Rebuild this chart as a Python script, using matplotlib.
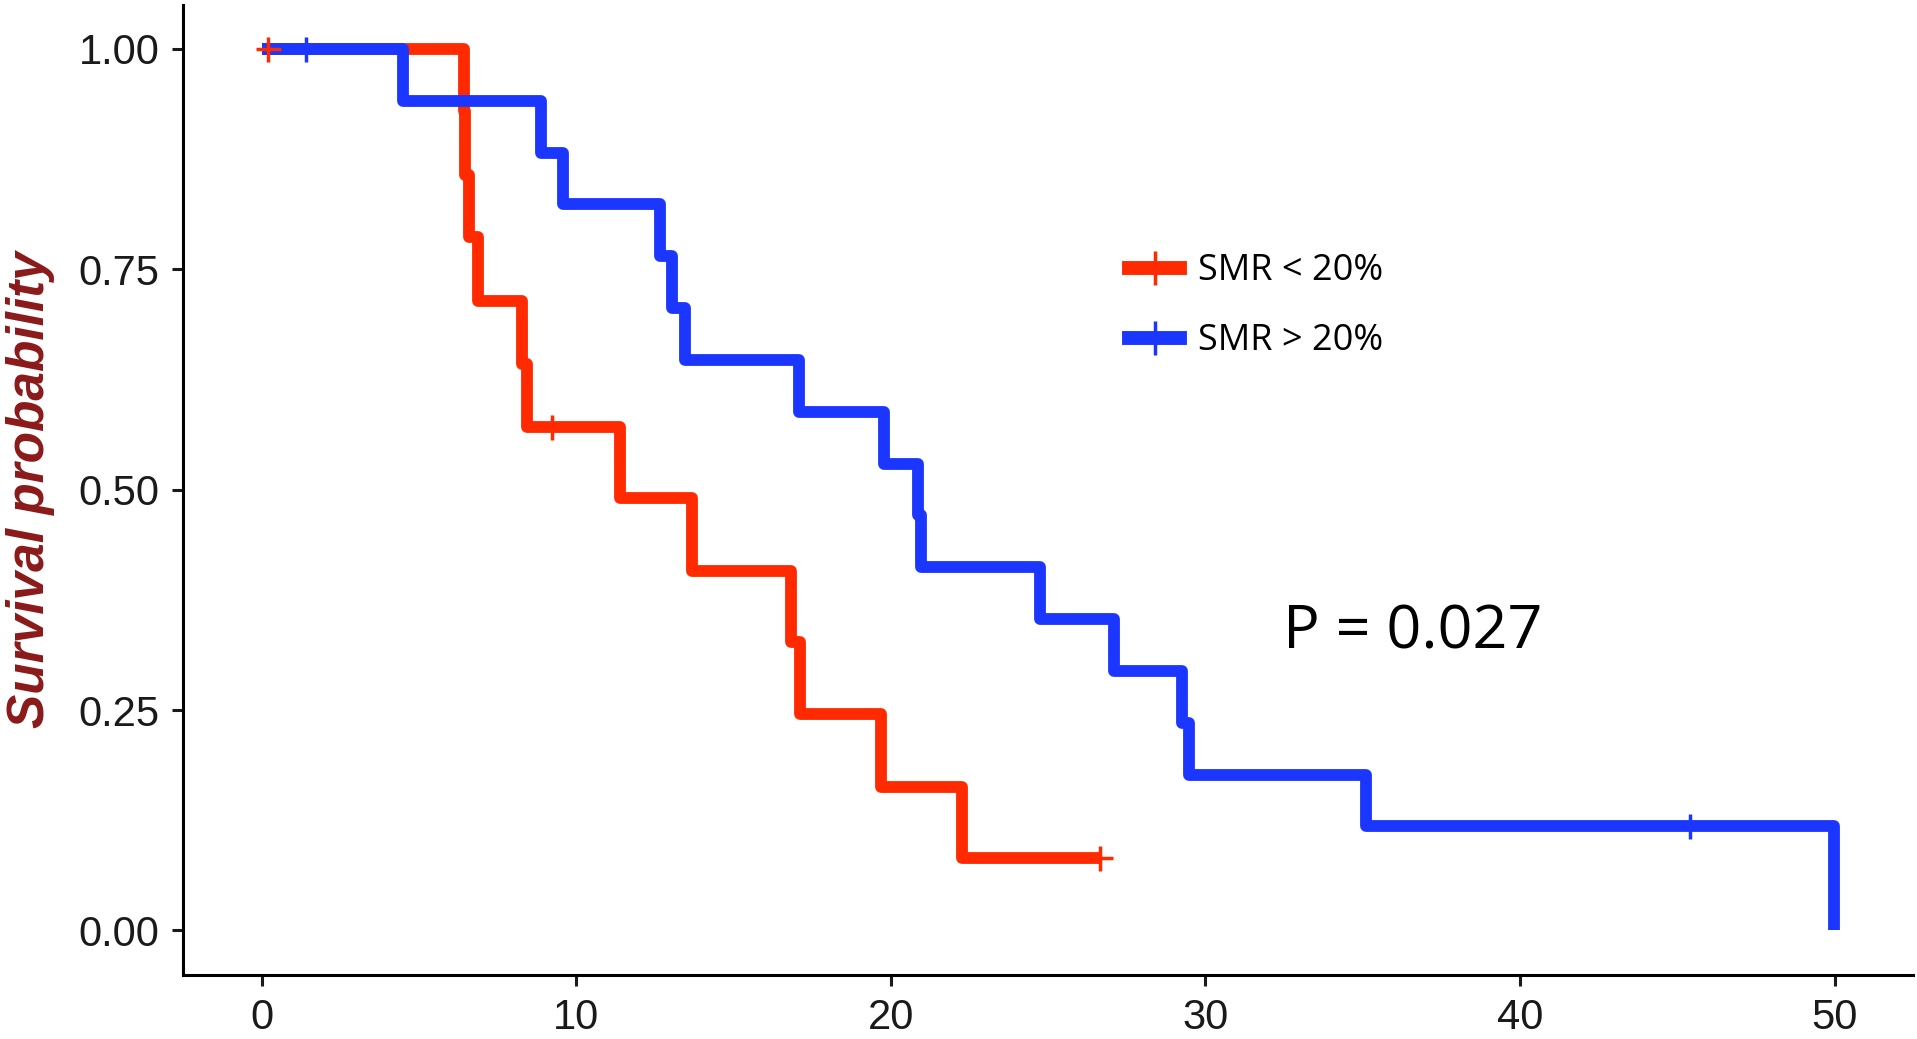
import numpy as np
import matplotlib.pyplot as plt
from matplotlib.lines import Line2D

# Kaplan-Meier step data
red_times = [0, 6.42, 6.47, 6.58, 6.87, 8.27, 8.43, 11.38, 13.67, 16.83, 17.10, 19.68, 22.25, 26.66]
red_surv = [1.0, 0.929, 0.857, 0.786, 0.714, 0.643, 0.571, 0.490, 0.408, 0.327, 0.245, 0.163, 0.082, 0.082]
red_cens_t = [0.2, 9.22, 26.66]
red_cens_s = [1.0, 0.571, 0.082]

blue_times = [0, 4.48, 8.88, 9.58, 12.66, 13.05, 13.45, 17.08, 19.78, 20.85, 20.95,
              24.75, 27.08, 29.25, 29.48, 35.12, 49.97]
blue_surv = [1.0, 0.941, 0.882, 0.824, 0.765, 0.706, 0.647, 0.588, 0.529, 0.471, 0.412,
             0.353, 0.294, 0.235, 0.176, 0.118, 0.0]
blue_cens_t = [1.4, 45.4]
blue_cens_s = [1.0, 0.118]

labels = ["SMR < 20%", "SMR > 20%"]
x_ticks = [0, 10, 20, 30, 40, 50]
y_ticks = [0.0, 0.25, 0.50, 0.75, 1.0]
p_text = "P = 0.027"

red = '#ff2a00'
blue = '#1a36ff'

plt.rcParams['font.family'] = ['Liberation Sans', 'DejaVu Sans']

fig = plt.figure(figsize=(19.17, 10.39), dpi=100)
ax = fig.add_axes([0.0955, 0.062, 0.9025, 0.9335])

lw = 8.5
ax.plot(red_times, red_surv, drawstyle='steps-post', color=red, lw=lw,
        solid_joinstyle='round', solid_capstyle='butt')
ax.plot(blue_times, blue_surv, drawstyle='steps-post', color=blue, lw=lw,
        solid_joinstyle='round', solid_capstyle='butt')

# censor marks
ax.plot(red_cens_t, red_cens_s, ls='none', marker='+', ms=18, mew=2.5, color=red)
ax.plot(blue_cens_t, blue_cens_s, ls='none', marker='+', ms=18, mew=2.5, color=blue)

ax.set_xlim(-2.5, 52.5)
ax.set_ylim(-0.05, 1.05)
ax.set_xticks(x_ticks)
ax.set_yticks(y_ticks)
ax.set_yticklabels([f"{v:.2f}" for v in y_ticks])
for s in ['top', 'right']:
    ax.spines[s].set_visible(False)
for s in ['left', 'bottom']:
    ax.spines[s].set_linewidth(2.2)
ax.tick_params(axis='both', length=8, width=2.2, labelsize=30, colors='#1a1a1a', pad=9)

ax.set_ylabel('Survival probability', fontsize=37, fontweight='bold', style='italic',
              color='#8b1a1a')
ax.yaxis.set_label_coords(-0.074, 0.5)

handles = [Line2D([], [], color=red, lw=10, marker='|', ms=24, mew=2.5),
           Line2D([], [], color=blue, lw=10, marker='|', ms=24, mew=2.5)]
leg = ax.legend(handles, labels, loc='center left', bbox_to_anchor=(0.547, 0.689),
                frameon=False, borderpad=0, borderaxespad=0, handlelength=1.4,
                handletextpad=0.5, labelspacing=0.95,
                prop={'family': 'Open Sans', 'size': 26})

ax.text(36.6, 0.338, p_text, ha='center', va='center', fontsize=44,
        family='Open Sans', color='black')

fig.savefig('out.png', dpi=100)
